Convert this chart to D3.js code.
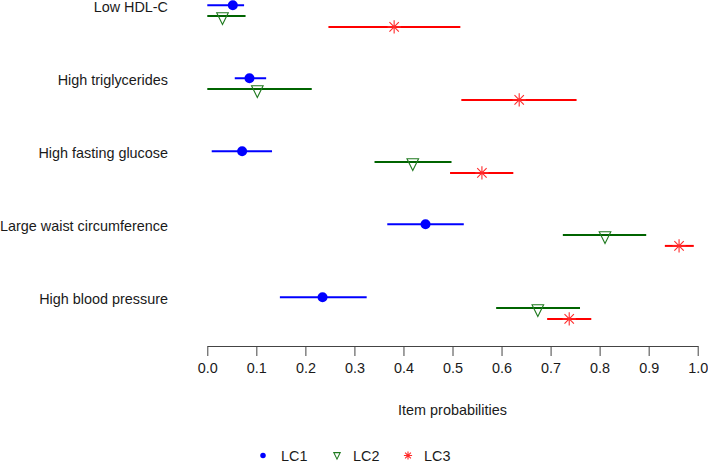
<!DOCTYPE html>
<html>
<head>
<meta charset="utf-8">
<script src="https://cdn.jsdelivr.net/npm/d3@7"></script>
<style>
  body { margin: 0; background: #fff; }
  text { font-family: "Liberation Sans", Arial, sans-serif; }
</style>
</head>
<body>
<div id="chart"></div>
<script>
const categories = ["Low HDL-C", "High triglycerides", "High fasting glucose",
    "Large waist circumference", "High blood pressure"];
const classes = ["LC1", "LC2", "LC3"];

const lc1Est = [0.052, 0.086, 0.071, 0.445, 0.235];
const lc1Lo  = [0.000, 0.056, 0.009, 0.367, 0.148];
const lc1Hi  = [0.075, 0.120, 0.132, 0.523, 0.325];

const lc2Est = [0.031, 0.102, 0.419, 0.811, 0.674];
const lc2Lo  = [0.000, 0.000, 0.341, 0.725, 0.589];
const lc2Hi  = [0.078, 0.213, 0.498, 0.895, 0.760];

const lc3Est = [0.381, 0.636, 0.560, 0.962, 0.738];
const lc3Lo  = [0.247, 0.518, 0.495, 0.933, 0.693];
const lc3Hi  = [0.516, 0.753, 0.624, 0.992, 0.783];

const tickValues = [0, 0.1, 0.2, 0.3, 0.4, 0.5, 0.6, 0.7, 0.8, 0.9, 1.0];

const width = 708, height = 464;
const fontSize = 14.4;
const lineColors = { LC1: "#0000ff", LC2: "#006400", LC3: "#ff0000" };
const markColors = { LC1: "#0000ff", LC2: "#1f7a1f", LC3: "#ff2a2a" };

const svg = d3.select("#chart").append("svg")
    .attr("width", width)
    .attr("height", height);

const x = d3.scaleLinear().domain([0, 1]).range([207.3, 697.7]);
const y = d3.scalePoint().domain(categories).range([5.3, 297.3]);
const offset = d3.scalePoint().domain(classes).range([0, 21.6]);

const series = [
    { cls: "LC1", est: lc1Est, lo: lc1Lo, hi: lc1Hi },
    { cls: "LC2", est: lc2Est, lo: lc2Lo, hi: lc2Hi },
    { cls: "LC3", est: lc3Est, lo: lc3Lo, hi: lc3Hi }
];

const rows = [];
series.forEach(s => {
    categories.forEach((c, i) => {
        rows.push({ cls: s.cls, cat: c, est: s.est[i], lo: s.lo[i], hi: s.hi[i] });
    });
});

// marker shapes
function drawMarker(g, cls, scale) {
    const k = scale || 1;
    if (cls === "LC1") {
        g.append("circle").attr("r", 5 * k).attr("fill", markColors.LC1);
    } else if (cls === "LC2") {
        const tri = d3.line()([[-5.8 * k, -3.4 * k], [5.8 * k, -3.4 * k], [0, 8.4 * k]]) + "Z";
        g.append("path").attr("d", tri)
            .attr("fill", "none")
            .attr("stroke", markColors.LC2)
            .attr("stroke-width", 1.1);
    } else {
        const r = 6.6 * k, d = 4.7 * k;
        const star = `M${-r},0L${r},0M0,${-r}L0,${r}M${-d},${-d}L${d},${d}M${-d},${d}L${d},${-d}`;
        g.append("path").attr("d", star)
            .attr("fill", "none")
            .attr("stroke", markColors.LC3)
            .attr("stroke-width", 1.1);
    }
}

// interval lines
svg.selectAll(".ci")
    .data(rows)
    .enter().append("line")
    .attr("class", "ci")
    .attr("x1", d => x(d.lo))
    .attr("x2", d => x(d.hi))
    .attr("y1", d => y(d.cat) + offset(d.cls))
    .attr("y2", d => y(d.cat) + offset(d.cls))
    .attr("stroke", d => lineColors[d.cls])
    .attr("stroke-width", 2);

// point estimates
svg.selectAll(".pt")
    .data(rows)
    .enter().append("g")
    .attr("class", "pt")
    .attr("transform", d => `translate(${x(d.est)},${y(d.cat) + offset(d.cls)})`)
    .each(function(d) { drawMarker(d3.select(this), d.cls); });

// category labels
svg.selectAll(".cat")
    .data(categories)
    .enter().append("text")
    .attr("class", "cat")
    .attr("x", 168)
    .attr("y", d => y(d) + 2)
    .attr("text-anchor", "end")
    .attr("dominant-baseline", "central")
    .attr("font-size", fontSize)
    .attr("fill", "#1a1a1a")
    .text(d => d);

// x axis
const axis = d3.axisBottom(x)
    .tickValues(tickValues)
    .tickFormat(d3.format(".1f"))
    .tickSize(10)
    .tickSizeOuter(0)
    .tickPadding(7);

const gx = svg.append("g")
    .attr("transform", "translate(0,346)")
    .call(axis);
gx.select(".domain").attr("stroke", "#444");
gx.selectAll(".tick line").attr("stroke", "#444");
gx.selectAll(".tick text")
    .attr("font-size", fontSize)
    .attr("font-family", "Liberation Sans, Arial, sans-serif")
    .attr("fill", "#1a1a1a");

svg.append("text")
    .attr("x", (x(0) + x(1)) / 2)
    .attr("y", 410)
    .attr("text-anchor", "middle")
    .attr("dominant-baseline", "central")
    .attr("font-size", fontSize)
    .attr("fill", "#1a1a1a")
    .text("Item probabilities");

// legend
const legendX = [263, 337, 408];
const legend = svg.selectAll(".leg")
    .data(classes)
    .enter().append("g")
    .attr("class", "leg")
    .attr("transform", (d, i) => `translate(${legendX[i]},455.5)`);

legend.each(function(d) {
    const g = d3.select(this).append("g");
    if (d === "LC1") drawMarker(g, d, 0.55);
    else if (d === "LC2") { g.attr("transform", "translate(0,-1)"); drawMarker(g, d, 0.55); }
    else drawMarker(g, d, 0.62);
});

legend.append("text")
    .attr("x", (d, i) => i === 0 ? 18 : 16)
    .attr("y", 5)
    .attr("font-size", fontSize)
    .attr("fill", "#1a1a1a")
    .text(d => d);
</script>
</body>
</html>
